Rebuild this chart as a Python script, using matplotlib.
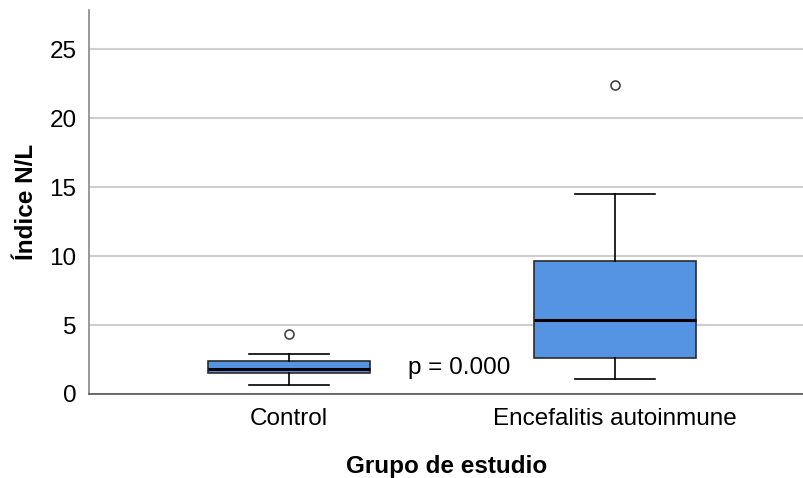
import matplotlib
matplotlib.use("Agg")
from matplotlib import pyplot as plt

plt.rcParams["font.family"] = ["Liberation Sans", "DejaVu Sans"]

# Group summaries (N/L index)
groups = ["Control", "Encefalitis autoinmune"]
q1 = [1.53, 2.59]
medians = [1.80, 5.35]
q3 = [2.37, 9.61]
whisker_low = [0.62, 1.09]
whisker_high = [2.90, 14.49]
outliers = [[4.35], [22.40]]
p_label = "p = 0.000"

stats = []
for i, name in enumerate(groups):
    stats.append({
        "label": name,
        "q1": q1[i],
        "med": medians[i],
        "q3": q3[i],
        "whislo": whisker_low[i],
        "whishi": whisker_high[i],
        "fliers": outliers[i],
    })

fig = plt.figure(figsize=(8.04, 4.78), dpi=100)
ax = fig.add_axes([89 / 804, 84 / 478, 715 / 804, 384 / 478])

box_color = "#5594e3"
edge = "#2b2b2b"
ax.bxp(
    stats,
    positions=[1, 2],
    widths=0.495,
    patch_artist=True,
    boxprops=dict(facecolor=box_color, edgecolor=edge, linewidth=1.2),
    medianprops=dict(color="black", linewidth=2.2),
    whiskerprops=dict(color="black", linewidth=1.2),
    capprops=dict(color="black", linewidth=1.2),
    capwidths=0.245,
    flierprops=dict(marker="o", markersize=6.5, markerfacecolor="white",
                    markeredgecolor="#444444", markeredgewidth=1.2),
    zorder=3,
)

ax.set_xlim(0.387, 2.58)
ax.set_ylim(0, 27.85)
ax.set_yticks([0, 5, 10, 15, 20, 25])
ax.yaxis.grid(True, color="#cfcfcf", linewidth=1.5, zorder=0)
ax.set_axisbelow(True)

for side in ["top", "right"]:
    ax.spines[side].set_visible(False)
ax.spines["left"].set_color("#888888")
ax.spines["bottom"].set_color("#555555")
ax.spines["left"].set_linewidth(1.2)
ax.spines["bottom"].set_linewidth(1.2)

ax.tick_params(axis="y", length=0, labelsize=17.5, pad=9)
ax.tick_params(axis="x", length=0, labelsize=17.5, pad=10)

ax.set_ylabel("Índice N/L", fontsize=17.5, fontweight="bold", labelpad=8)
ax.set_xlabel("Grupo de estudio", fontsize=17.5, fontweight="bold", labelpad=18)

ax.text(1.366, 1.9, p_label, fontsize=17.5, va="center", ha="left")

fig.savefig("out.png", dpi=100)
